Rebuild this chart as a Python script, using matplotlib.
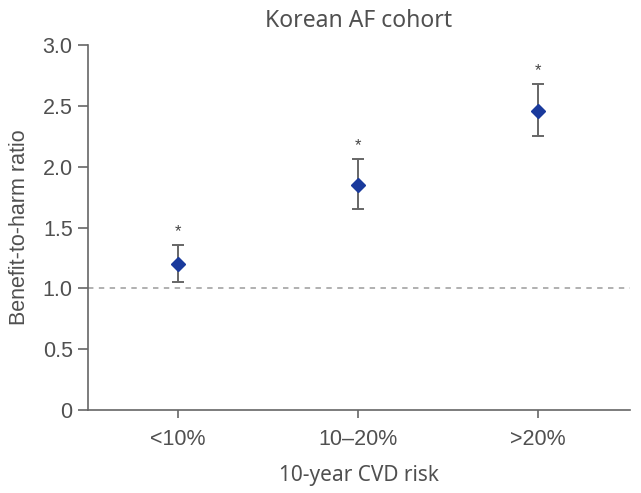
import matplotlib
matplotlib.use("Agg")
import matplotlib.pyplot as plt

categories = ["<10%", "10–20%", ">20%"]
ratio = [1.20, 1.85, 2.46]
ci_low = [1.05, 1.65, 2.25]
ci_high = [1.36, 2.06, 2.68]
yticks = [0, 0.5, 1.0, 1.5, 2.0, 2.5, 3.0]
ytick_labels = ["0", "0.5", "1.0", "1.5", "2.0", "2.5", "3.0"]

text_col = "#505050"
fig = plt.figure(figsize=(6.41, 4.93), dpi=100)
ax = fig.add_axes([88/641, 83/493, (630-88)/641, (410-45)/493])

x = list(range(len(categories)))
yerr = [[r - l for r, l in zip(ratio, ci_low)], [h - r for r, h in zip(ratio, ci_high)]]
ax.axhline(1.0, color="#aaaaaa", lw=1.3, ls=(0, (3, 3)), zorder=1)
ax.errorbar(x, ratio, yerr=yerr, fmt="none", ecolor="#666666", elinewidth=1.4,
            capsize=4.5, capthick=1.4, zorder=2)
ax.plot(x, ratio, "D", color="#1a3a9c", ms=7.5, zorder=3)
for xi, h in zip(x, ci_high):
    ax.text(xi, h + 0.11, "*", ha="center", va="center", fontsize=12, color="#444444",
            family="Liberation Sans")

ax.set_xlim(-0.5, 2.51)
ax.set_ylim(0, 3.0)
ax.set_xticks(x)
ax.set_xticklabels(categories, family="Liberation Sans", fontsize=15.5, color=text_col)
ax.set_yticks(yticks)
ax.set_yticklabels(ytick_labels, family="Liberation Sans", fontsize=15.5, color=text_col)
for s in ["top", "right"]:
    ax.spines[s].set_visible(False)
for s in ["left", "bottom"]:
    ax.spines[s].set_color("#666666")
    ax.spines[s].set_linewidth(1.2)
ax.tick_params(axis="y", length=7, width=1.2, color="#666666", pad=4)
ax.tick_params(axis="x", length=5.5, width=1.2, color="#666666", pad=8)
ax.set_ylabel("Benefit-to-harm ratio", family="Liberation Sans", fontsize=15.5,
              color=text_col, labelpad=9)
ax.set_xlabel("10-year CVD risk", family="Noto Sans", fontsize=15, color=text_col,
              labelpad=11)
ax.set_title("Korean AF cohort", family="Noto Sans", fontsize=16.5, color=text_col, pad=13)

fig.savefig("out.png", dpi=100)
